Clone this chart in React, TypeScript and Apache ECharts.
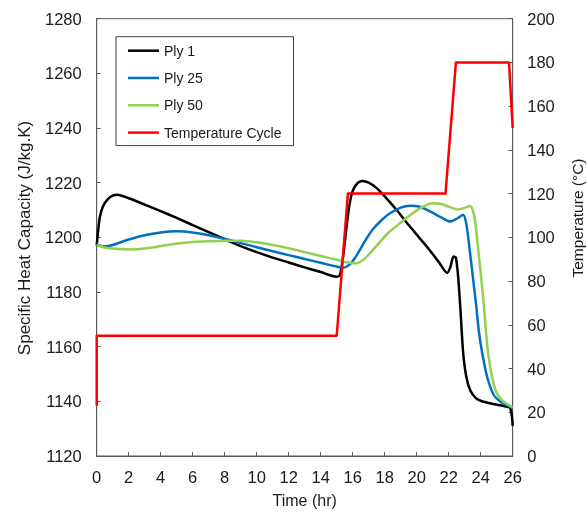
import React, { useEffect, useRef } from "react";
import * as echarts from "echarts";

const xTicks = { min: 0, max: 26, interval: 2 };
const leftAxis = { min: 1120, max: 1280, interval: 20 };
const rightAxis = { min: 0, max: 200, interval: 20 };

const seriesNames = ["Ply 1", "Ply 25", "Ply 50", "Temperature Cycle"];

const ply1: [number, number][] = [
  [0, 1197], [0.1, 1203], [0.2, 1207.5], [0.4, 1211.5], [0.7, 1214], [1.0, 1215.3], [1.3, 1215.6],
  [2, 1214.3], [3, 1212], [4, 1209.6], [5, 1207.1], [6, 1204.5], [7, 1201.9], [8, 1199.3], [9, 1196.8],
  [10, 1194.6], [11, 1192.6], [12, 1190.8], [13, 1189], [14, 1187.3], [15, 1185.6], [15.2, 1186.2],
  [15.4, 1193], [15.6, 1203], [15.8, 1212], [16.0, 1217], [16.3, 1219.8], [16.6, 1220.6], [17, 1220],
  [17.5, 1218], [18, 1215], [18.75, 1210], [19.5, 1204.5], [20.2, 1199.6], [20.8, 1195.4], [21.4, 1190.8],
  [21.9, 1187], [22.1, 1189], [22.3, 1193], [22.45, 1192.5], [22.6, 1185], [22.75, 1172], [22.9, 1158],
  [23.1, 1149], [23.35, 1144], [23.7, 1141.2], [24, 1140.2], [24.5, 1139.4], [25, 1138.8], [25.5, 1138.2],
  [25.85, 1137.5], [26, 1131],
];

const ply25: [number, number][] = [
  [0, 1197.2], [0.5, 1196.7], [1, 1197.2], [2, 1199.2], [3, 1200.8], [4, 1201.8], [5, 1202.2], [6, 1201.8],
  [7, 1200.8], [8, 1199.5], [9, 1197.9], [10, 1196.4], [11, 1194.9], [12, 1193.5], [13, 1192.1], [14, 1190.7],
  [15, 1189.3], [15.4, 1188.9], [15.8, 1190], [16.2, 1193], [16.7, 1198], [17.2, 1202.5], [17.7, 1205.7],
  [18.3, 1208.7], [19, 1210.9], [19.6, 1211.6], [20.2, 1211.2], [20.8, 1209.6], [21.5, 1207.4], [22.1, 1205.8],
  [22.5, 1206.8], [22.9, 1208.3], [23.1, 1205], [23.3, 1196], [23.5, 1186], [23.7, 1176], [23.9, 1165],
  [24.1, 1157.5], [24.4, 1149], [24.8, 1142.5], [25.2, 1140], [25.6, 1138.7], [26, 1137.8],
];

const ply50: [number, number][] = [
  [0, 1197.2], [0.5, 1196.3], [1.2, 1195.8], [2.3, 1195.6], [3.5, 1196.3], [4.5, 1197.3], [5.8, 1198.2],
  [7, 1198.6], [8, 1198.8], [9, 1198.8], [10, 1198.2], [11, 1197.2], [12, 1196], [13, 1194.6], [14, 1193.2],
  [15, 1191.8], [15.7, 1190.8], [16.25, 1190.5], [16.8, 1192.5], [17.5, 1197], [18.2, 1201.5], [18.75, 1204.2],
  [19.5, 1207.7], [20.2, 1210.6], [21.0, 1212.5], [21.5, 1212.3], [22, 1211.2], [22.6, 1210.2], [23.0, 1210.8],
  [23.33, 1211.5], [23.5, 1210], [23.65, 1206], [23.8, 1198], [24.0, 1187], [24.2, 1175], [24.35, 1164],
  [24.5, 1156], [24.75, 1148], [25, 1143], [25.4, 1140], [25.8, 1138.5], [26, 1137.8],
];

const tempCycle: [number, number][] = [
  [0, 23], [0, 55], [15, 55], [15.7, 120], [21.8, 120], [22.45, 180], [25.77, 180], [26, 150],
];

const colors = ["#000000", "#0070C0", "#92D050", "#FF0000"];

export default function App() {
  const ref = useRef<HTMLDivElement>(null);
  useEffect(() => {
    if (!ref.current) return;
    const chart = echarts.init(ref.current, null, { renderer: "svg" });
    const font = "'Liberation Sans', Arial, sans-serif";
    const labelColor = "#1a1a1a";
    const axisColor = "#595959";
    const lineSeries = (name: string, data: [number, number][], color: string, yIdx: number, smooth: number | boolean) => ({
      type: "line",
      name,
      data,
      yAxisIndex: yIdx,
      showSymbol: false,
      symbol: "none",
      smooth,
      lineStyle: { color, width: 2.5, join: "round" },
      itemStyle: { color },
      z: yIdx === 1 ? 3 : 2,
    });
    chart.setOption({
      animation: false,
      textStyle: { fontFamily: font },
      grid: { left: 96.7, right: 74.3, top: 18.7, bottom: 57, show: true, borderColor: axisColor, borderWidth: 1 },
      legend: {
        orient: "vertical",
        left: 116,
        top: 36.7,
        data: seriesNames,
        icon: "rect",
        itemWidth: 31,
        itemHeight: 2.5,
        itemGap: 13.3,
        padding: [7, 12, 6, 12],
        borderColor: "#404040",
        borderWidth: 1,
        textStyle: { fontFamily: font, fontSize: 14, color: labelColor, lineHeight: 14 },
      },
      xAxis: {
        type: "value",
        min: xTicks.min,
        max: xTicks.max,
        interval: xTicks.interval,
        name: "Time (hr)",
        nameLocation: "middle",
        nameGap: 36,
        nameTextStyle: { fontSize: 16, color: labelColor, fontFamily: font },
        axisLine: { show: true, lineStyle: { color: axisColor, width: 1 } },
        axisTick: { show: true, inside: true, length: 4, lineStyle: { color: axisColor } },
        axisLabel: { fontSize: 16.5, color: labelColor, margin: 12, fontFamily: font },
        splitLine: { show: false },
      },
      yAxis: [
        {
          type: "value",
          min: leftAxis.min,
          max: leftAxis.max,
          interval: leftAxis.interval,
          axisLine: { show: true, lineStyle: { color: axisColor, width: 1 } },
          axisTick: { show: true, inside: true, length: 4, lineStyle: { color: axisColor } },
          axisLabel: { fontSize: 16.5, color: labelColor, margin: 15, fontFamily: font, formatter: (v: number) => String(v) },
          splitLine: { show: false },
        },
        {
          type: "value",
          position: "right",
          min: rightAxis.min,
          max: rightAxis.max,
          interval: rightAxis.interval,
          axisLine: { show: true, lineStyle: { color: axisColor, width: 1 } },
          axisTick: { show: true, inside: true, length: 4, lineStyle: { color: axisColor } },
          axisLabel: { fontSize: 16.5, color: labelColor, margin: 14.5, fontFamily: font, formatter: (v: number) => String(v) },
          splitLine: { show: false },
        },
      ],
      graphic: [
        {
          type: "text",
          x: 24,
          y: 238,
          rotation: Math.PI / 2,
          style: {
            text: "Specific Heat Capacity (J/kg.K)",
            fontSize: 17,
            fontFamily: font,
            fill: labelColor,
            textAlign: "center",
            textVerticalAlign: "middle",
          },
        },
        {
          type: "text",
          x: 577,
          y: 218,
          rotation: Math.PI / 2,
          style: {
            text: "Temperature (°C)",
            fontSize: 15.5,
            fontFamily: font,
            fill: labelColor,
            textAlign: "center",
            textVerticalAlign: "middle",
          },
        },
      ],
      series: [
        lineSeries(seriesNames[0], ply1, colors[0], 0, 0.25),
        lineSeries(seriesNames[1], ply25, colors[1], 0, 0.25),
        lineSeries(seriesNames[2], ply50, colors[2], 0, 0.25),
        lineSeries(seriesNames[3], tempCycle, colors[3], 1, false),
      ],
    });
    return () => chart.dispose();
  }, []);
  return <div ref={ref} style={{ position: "fixed", left: 0, top: 0, width: 587, height: 513 }} />;
}
